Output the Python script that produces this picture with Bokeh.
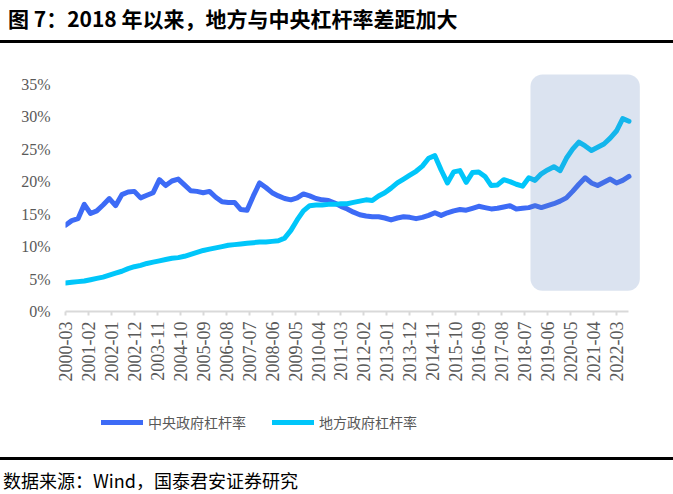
from bokeh.plotting import figure
from bokeh.layouts import column
from bokeh.models import (Range1d, FixedTicker, PrintfTickFormatter, BoxAnnotation,
                          Legend, LegendItem, ColumnDataSource, Div)
from bokeh.embed import file_html
from bokeh.resources import INLINE
import math
import pandas as pd

# Quarterly series, 2000Q1 .. 2022Q3 (leverage ratio, %)
quarters = [str(q) for q in pd.period_range("2000Q1", "2022Q3", freq="Q")]

central = [
    13.3, 14.0, 14.3, 16.5, 15.1, 15.5, 16.4, 17.4, 16.3, 18.0,
    18.4, 18.5, 17.5, 17.9, 18.3, 20.3, 19.4, 20.1, 20.4, 19.5,
    18.6, 18.5, 18.3, 18.5, 17.6, 16.9, 16.8, 16.8, 15.7, 15.6,
    17.8, 19.8, 19.1, 18.3, 17.8, 17.4, 17.2, 17.5, 18.1, 17.8,
    17.4, 17.2, 17.1, 16.7, 16.2, 15.8, 15.3, 14.9, 14.7, 14.6,
    14.6, 14.4, 14.1, 14.4, 14.6, 14.5, 14.3, 14.5, 14.8, 15.2,
    14.8, 15.2, 15.5, 15.7, 15.6, 15.9, 16.2, 16.0, 15.8, 15.9,
    16.1, 16.3, 15.8, 15.9, 16.0, 16.3, 16.0, 16.3, 16.6, 17.0,
    17.5, 18.5, 19.6, 20.6, 19.8, 19.4, 19.9, 20.4, 19.8, 20.2,
    20.8,
]

local = [
    4.4, 4.5, 4.6, 4.7, 4.9, 5.1, 5.3, 5.6, 5.9, 6.2,
    6.6, 6.9, 7.1, 7.4, 7.6, 7.8, 8.0, 8.2, 8.3, 8.5,
    8.8, 9.1, 9.4, 9.6, 9.8, 10.0, 10.2, 10.3, 10.4, 10.5,
    10.6, 10.7, 10.7, 10.8, 10.9, 11.3, 12.5, 14.1, 15.5, 16.3,
    16.4, 16.4, 16.5, 16.5, 16.6, 16.6, 16.8, 17.0, 17.2, 17.1,
    17.8, 18.3, 19.0, 19.8, 20.4, 21.0, 21.6, 22.4, 23.6, 24.0,
    21.8, 19.8, 21.5, 21.7, 19.9, 21.4, 21.5, 20.8, 19.4, 19.5,
    20.3, 20.0, 19.6, 19.3, 20.6, 20.2, 21.2, 21.8, 22.3, 21.7,
    23.6, 25.0, 26.1, 25.5, 24.8, 25.3, 25.8, 26.7, 27.8, 29.7,
    29.3,
]

tick_labels = [
    "2000-03", "2001-02", "2002-01", "2002-12", "2003-11", "2004-10",
    "2005-09", "2006-08", "2007-07", "2008-06", "2009-05", "2010-04",
    "2011-03", "2012-02", "2013-01", "2013-12", "2014-11", "2015-10",
    "2016-09", "2017-08", "2018-07", "2019-06", "2020-05", "2021-04",
    "2022-03",
]
y_ticks = [0, 5, 10, 15, 20, 25, 30, 35]

# highlighted period (months since 2000-03) and its vertical span in %
highlight_start, highlight_end = 222.8, 275.2
highlight_bottom, highlight_top = 3.2, 36.5

series_names = ["中央政府杠杆率", "地方政府杠杆率"]
title_text = "图 7：2018 年以来，地方与中央杠杆率差距加大"
source_text = "数据来源：Wind，国泰君安证券研究"

W = 673
HEADER_H, MAIN_H, LEGEND_H, FOOTER_H = 45, 355, 45, 49
blue = "#3D6BF6"
cyan = "#00C6FA"
CJK = "'Noto Sans CJK SC'"


def month_index(label):
    y, m = label.split("-")
    return (int(y) - 2000) * 12 + int(m) - 3


def quarter_month_index(q):
    per = pd.Period(q, freq="Q")
    return (per.year - 2000) * 12 + per.quarter * 3 - 3


# ---- header: title and rule ----
header = Div(width=W, height=HEADER_H, styles={"margin": "0", "padding": "0"}, text=(
    f'<div style="position:relative;width:{W}px;height:{HEADER_H}px;margin:0;padding:0;">'
    f'<div style="position:absolute;left:8px;top:4px;line-height:28px;white-space:nowrap;'
    f'font-family:{CJK};font-weight:bold;font-size:21px;color:#000;">{title_text}</div>'
    f'<div style="position:absolute;left:0;top:40px;width:{W}px;height:3px;background:#000;"></div>'
    '</div>'))

# ---- main chart ----
xs = [quarter_month_index(q) for q in quarters]
src = ColumnDataSource(dict(x=xs, central=central, local=local))

p = figure(width=W, height=MAIN_H, output_backend="svg", toolbar_location=None,
           x_range=Range1d(0, 287.5), y_range=Range1d(0, 40.2),
           min_border_left=65, min_border_right=8,
           min_border_top=5, min_border_bottom=89)
p.outline_line_color = None
p.xgrid.visible = False
p.ygrid.visible = False
p.background_fill_color = "white"
p.border_fill_color = "white"

r_c = p.line("x", "central", source=src, line_color=blue, line_width=5,
             line_join="round", line_cap="round")
r_l = p.line("x", "local", source=src, line_color=cyan, line_width=5,
             line_join="round", line_cap="round")

# translucent rounded highlight box over the recent years
p.add_layout(BoxAnnotation(left=highlight_start, right=highlight_end,
                           bottom=highlight_bottom, top=highlight_top,
                           fill_color="#5B7FBA", fill_alpha=0.22,
                           line_color=None, border_radius=12))

xa = p.xaxis[0]
xa.ticker = FixedTicker(ticks=[month_index(t) for t in tick_labels])
xa.major_label_overrides = {month_index(t): t for t in tick_labels}
xa.major_label_orientation = math.pi / 2
xa.bounds = (0, xs[-1])
xa.axis_line_color = "#D9D9D9"
xa.axis_line_width = 2
xa.major_tick_line_color = "#D9D9D9"
xa.major_tick_line_width = 2
xa.major_tick_out = 4
xa.major_tick_in = 0
xa.minor_tick_line_color = None
xa.major_label_standoff = 6
xa.major_label_text_font = "Liberation Serif"
xa.major_label_text_font_size = "18px"
xa.major_label_text_color = "#595959"

ya = p.yaxis[0]
ya.ticker = FixedTicker(ticks=y_ticks)
ya.formatter = PrintfTickFormatter(format="%d%%")
ya.axis_line_color = None
ya.major_tick_line_color = None
ya.minor_tick_line_color = None
ya.major_tick_out = 0
ya.major_tick_in = 0
ya.major_label_standoff = 15
ya.major_label_text_font = "Liberation Serif"
ya.major_label_text_font_size = "16px"
ya.major_label_text_color = "#595959"

# ---- legend strip (its frame lines up with the chart frame, x from 65 px) ----
leg = figure(width=W, height=LEGEND_H, output_backend="svg", toolbar_location=None,
             x_range=Range1d(0, 1), y_range=Range1d(0, 1),
             x_axis_type=None, y_axis_type=None,
             min_border_left=65, min_border_right=8, min_border_top=0, min_border_bottom=0)
leg.outline_line_color = None
leg.grid.visible = False
leg.background_fill_color = "white"
leg.border_fill_color = "white"
nan = float("nan")
key_c = leg.line(x=[nan], y=[nan], line_color=blue, line_width=5, line_cap="round")
key_l = leg.line(x=[nan], y=[nan], line_color=cyan, line_width=5, line_cap="round")
legend = Legend(items=[LegendItem(label=series_names[0], renderers=[key_c]),
                       LegendItem(label=series_names[1], renderers=[key_l])],
                orientation="horizontal", location=(36, 13),
                glyph_width=42, glyph_height=20, label_height=20,
                label_standoff=5, spacing=26, padding=0, margin=0,
                border_line_color=None, background_fill_alpha=0,
                label_text_font="Noto Sans CJK SC", label_text_font_size="14px",
                label_text_color="#595959")
leg.add_layout(legend)

# ---- footer: rule and source ----
footer = Div(width=W, height=FOOTER_H, styles={"margin": "0", "padding": "0"}, text=(
    f'<div style="position:relative;width:{W}px;height:{FOOTER_H}px;margin:0;padding:0;">'
    f'<div style="position:absolute;left:0;top:12px;width:{W}px;height:2.5px;background:#000;"></div>'
    f'<div style="position:absolute;left:3px;top:22px;line-height:26px;white-space:nowrap;'
    f'font-family:{CJK};font-size:18px;color:#000;">{source_text}</div>'
    '</div>'))

layout = column(header, p, leg, footer, spacing=0)
open("out.html", "w").write(file_html(layout, INLINE))
